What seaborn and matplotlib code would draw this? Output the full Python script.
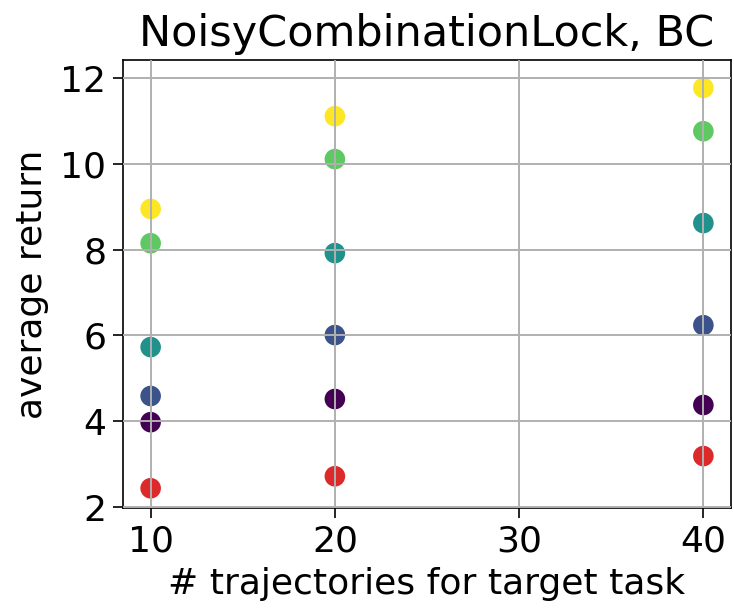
import matplotlib
matplotlib.use("Agg")
import matplotlib.pyplot as plt
import seaborn as sns
import pandas as pd

n_traj = [10, 20, 40]
series_names = ["s1", "s2", "s3", "s4", "s5", "baseline"]
series_values = {
    "s1": [3.98, 4.52, 4.38],
    "s2": [4.59, 6.01, 6.24],
    "s3": [5.73, 7.92, 8.62],
    "s4": [8.15, 10.11, 10.76],
    "s5": [8.95, 11.11, 11.77],
    "baseline": [2.44, 2.72, 3.19],
}
colors = ["#440154", "#3b528b", "#21918c", "#5ec962", "#fde725", "#dc2a2a"]

rows = []
for name in series_names:
    for x, y in zip(n_traj, series_values[name]):
        rows.append({"x": x, "y": y, "series": name})
df = pd.DataFrame(rows)

fig = plt.figure(figsize=(7.34, 6.11), dpi=100)
ax = fig.add_axes([123/734, 1-508/611, (731-123)/734, (508-60)/611])
sns.scatterplot(data=df, x="x", y="y", hue="series", palette=colors,
                hue_order=series_names, s=220, linewidth=0, ax=ax, legend=False)
ax.set_axisbelow(False)
ax.grid(True, color="#b0b0b0", linewidth=1.4, zorder=3)
ax.set_xlim(8.5, 41.5)
ax.set_ylim(1.98, 12.42)
ax.set_xticks([10, 20, 30, 40])
ax.set_yticks([2, 4, 6, 8, 10, 12])
ax.tick_params(labelsize=26, length=7, width=1.2, pad=5)
ax.set_xlabel("# trajectories for target task", fontsize=26, labelpad=6)
ax.set_ylabel("average return", fontsize=26, labelpad=8)
ax.set_title("NoisyCombinationLock, BC", fontsize=31, pad=10)
for sp in ax.spines.values():
    sp.set_linewidth(1.2)
fig.savefig("out.png", dpi=100)
